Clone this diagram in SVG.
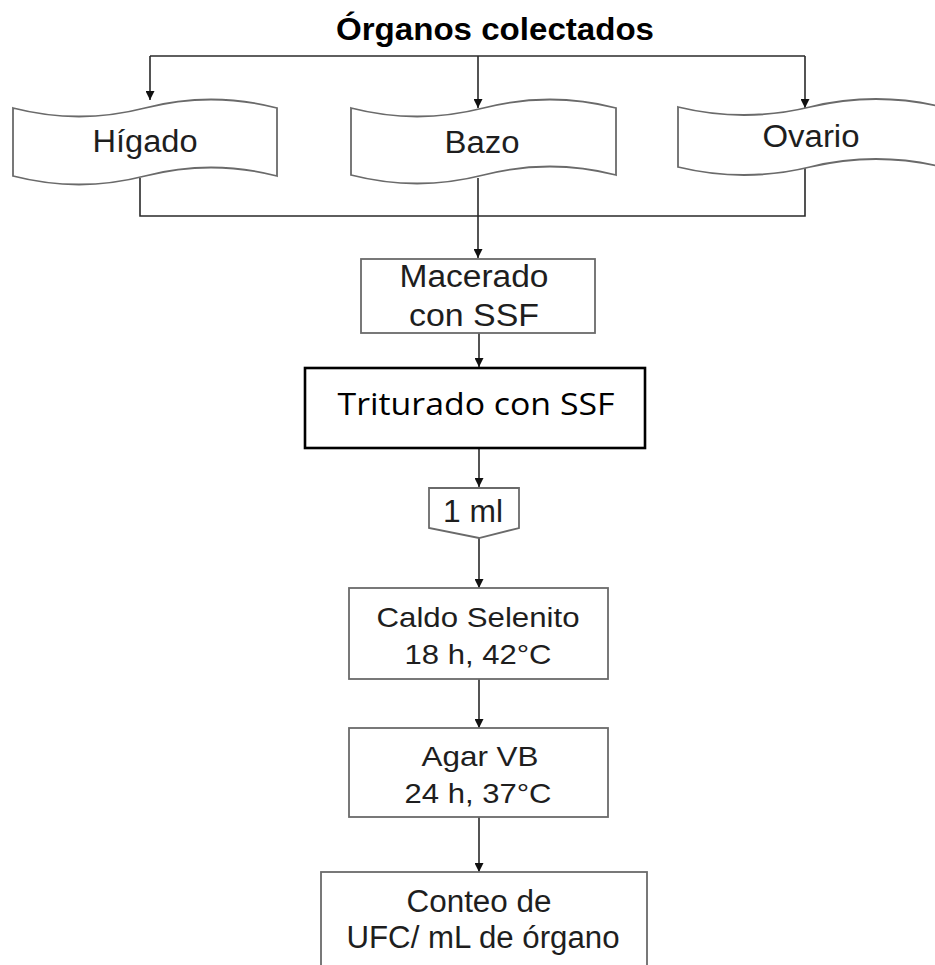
<svg xmlns="http://www.w3.org/2000/svg" width="935" height="965" viewBox="0 0 935 965">
<style>
.bg{fill:#fff}
.tape{fill:#fff;stroke:#6a6a6a;stroke-width:1.8}
.box{fill:#fff;stroke:#6a6a6a;stroke-width:1.8}
.boxb{fill:#fff;stroke:#000;stroke-width:2.6}
.t{font-family:"Liberation Sans",Arial,sans-serif;font-size:31px;fill:#1e1e1e;text-anchor:middle}
.s{font-size:27.5px}
.title{font-family:"Liberation Sans",Arial,sans-serif;font-size:31px;font-weight:bold;fill:#000;text-anchor:middle}
.cal{font-family:"Open Sans","Noto Sans",sans-serif;font-size:31px;fill:#000;text-anchor:middle}
.c{fill:none;stroke:#2a2a2a;stroke-width:1.6}
</style>
<defs>
<marker id="ah" viewBox="0 0 10 10" refX="10" refY="5" markerWidth="11" markerHeight="9" markerUnits="userSpaceOnUse" orient="auto">
<path d="M0,0 L10,5 L0,10 z" fill="#111"/>
</marker>
</defs>
<rect class="bg" x="0" y="0" width="935" height="965"/>

<g id="title">
<text class="title" x="495" y="40" textLength="318" lengthAdjust="spacingAndGlyphs">Órganos colectados</text>
</g>

<g id="connectors">
<line class="c" x1="150" y1="56" x2="805" y2="56"/>
<line class="c" x1="150" y1="56" x2="150" y2="100" marker-end="url(#ah)"/>
<line class="c" x1="478" y1="56" x2="478" y2="108" marker-end="url(#ah)"/>
<line class="c" x1="805" y1="56" x2="805" y2="108" marker-end="url(#ah)"/>
<path class="c" d="M140,178 V216 H805 V163"/>
<line class="c" x1="478" y1="178" x2="478" y2="258" marker-end="url(#ah)"/>
<line class="c" x1="479" y1="333" x2="479" y2="367" marker-end="url(#ah)"/>
<line class="c" x1="479" y1="449" x2="479" y2="487" marker-end="url(#ah)"/>
<line class="c" x1="479" y1="538" x2="479" y2="588" marker-end="url(#ah)"/>
<line class="c" x1="479" y1="679" x2="479" y2="728" marker-end="url(#ah)"/>
<line class="c" x1="479" y1="817" x2="479" y2="872" marker-end="url(#ah)"/>
</g>

<g id="higado">
<path class="tape" d="M13,108 Q79,125 145,108 T277,108 L277,176 Q211,159 145,176 T13,176 Z"/>
<text class="t" x="145" y="152" textLength="105" lengthAdjust="spacingAndGlyphs">Hígado</text>
</g>

<g id="bazo">
<path class="tape" d="M351,108 Q417,125 483.5,108 T616,108 L616,175 Q550,158 483.5,175 T351,175 Z"/>
<text class="t" x="482" y="153" textLength="75" lengthAdjust="spacingAndGlyphs">Bazo</text>
</g>

<g id="ovario">
<path class="tape" d="M678,107 Q744,123 810,107 T942,107 L942,167 Q876,151 810,167 T678,167 Z"/>
<text class="t" x="811" y="147" textLength="97" lengthAdjust="spacingAndGlyphs">Ovario</text>
</g>

<g id="macerado">
<rect class="box" x="361" y="259" width="234" height="74"/>
<text class="t" x="474" y="287" textLength="149" lengthAdjust="spacingAndGlyphs">Macerado</text>
<text class="t" x="474" y="326" textLength="130" lengthAdjust="spacingAndGlyphs">con SSF</text>
</g>

<g id="triturado">
<rect class="boxb" x="305" y="368" width="340" height="80"/>
<text class="cal" x="476" y="415" textLength="277" lengthAdjust="spacingAndGlyphs">Triturado con SSF</text>
</g>

<g id="uno-ml">
<path class="box" d="M429,488 H519 V528 L479,538 L429,528 Z"/>
<text class="t" x="473" y="522" textLength="60" lengthAdjust="spacingAndGlyphs">1 ml</text>
</g>

<g id="caldo">
<rect class="box" x="349" y="588" width="259" height="91"/>
<text class="t s" x="478" y="627" textLength="203" lengthAdjust="spacingAndGlyphs">Caldo Selenito</text>
<text class="t s" x="478" y="664" textLength="147" lengthAdjust="spacingAndGlyphs">18 h, 42°C</text>
</g>

<g id="agar">
<rect class="box" x="349" y="728" width="259" height="89"/>
<text class="t s" x="480" y="766" textLength="117" lengthAdjust="spacingAndGlyphs">Agar VB</text>
<text class="t s" x="478" y="803" textLength="147" lengthAdjust="spacingAndGlyphs">24 h, 37°C</text>
</g>

<g id="conteo">
<rect class="box" x="321" y="872" width="326" height="110"/>
<text class="t" x="479" y="912" textLength="145" lengthAdjust="spacingAndGlyphs">Conteo de</text>
<text class="t" x="483" y="948" textLength="273" lengthAdjust="spacingAndGlyphs">UFC/ mL de órgano</text>
</g>
</svg>
